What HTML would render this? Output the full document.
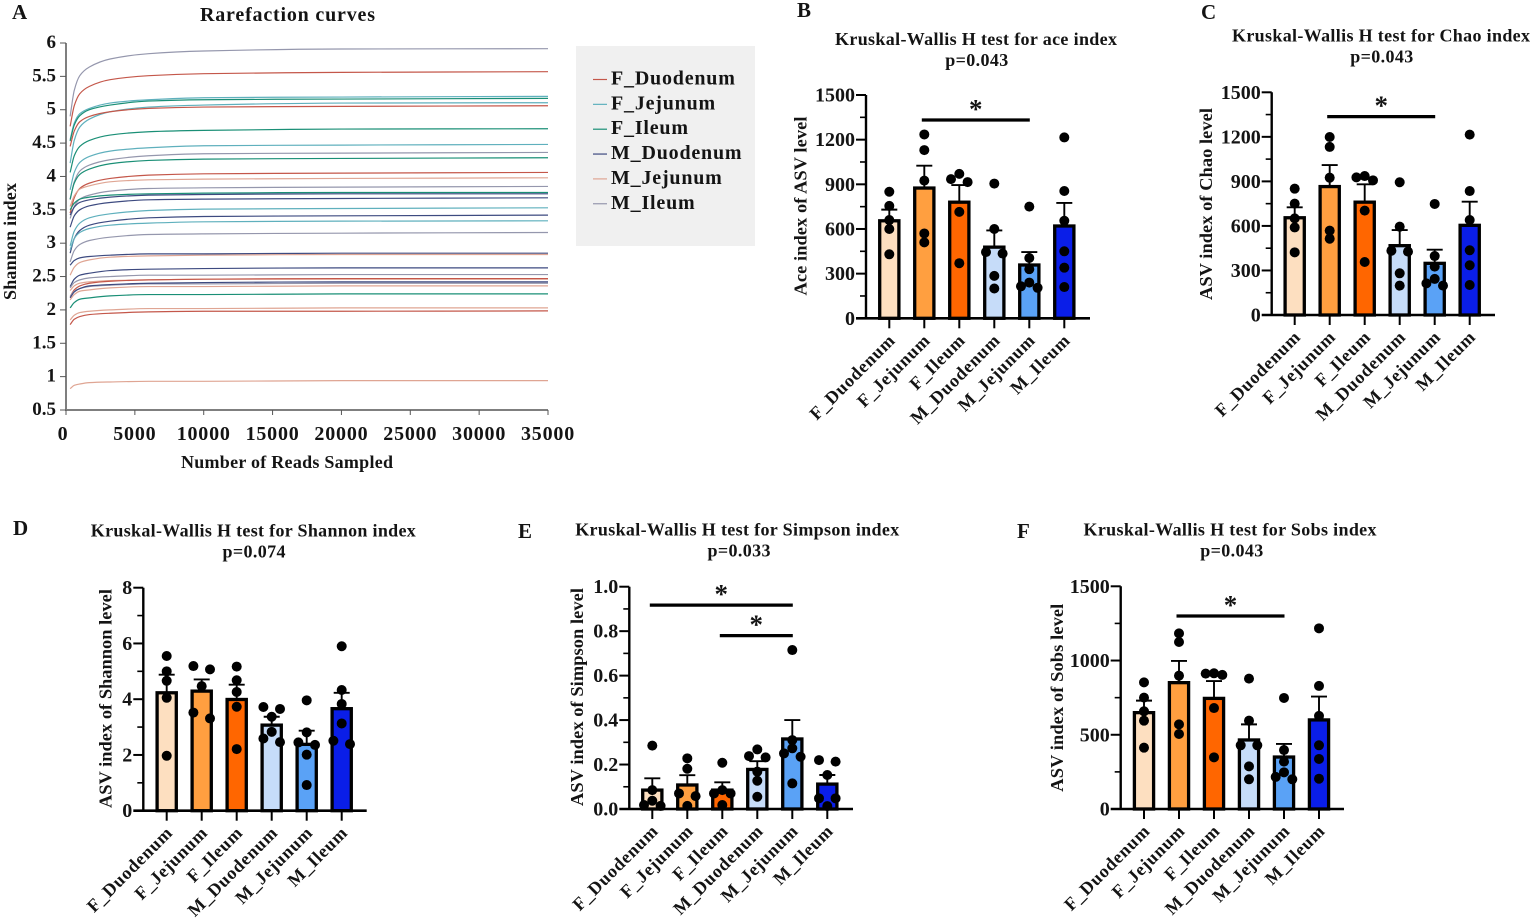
<!DOCTYPE html>
<html lang="en">
<head>
<meta charset="utf-8">
<title>Rarefaction curves and Kruskal-Wallis H tests</title>
<style>
html,body{margin:0;padding:0;background:#fff;width:1535px;height:921px;overflow:hidden}
svg{display:block}
text{font-family:"Liberation Serif",serif;font-weight:bold;fill:#141414}
</style>
</head>
<body>
<svg id="figure" xmlns="http://www.w3.org/2000/svg" width="1535" height="921" viewBox="0 0 1535 921"></svg>
<script>
// ---------- shared categories ----------
const categories = ['F_Duodenum','F_Jejunum','F_Ileum','M_Duodenum','M_Jejunum','M_Ileum'];

// ---------- panel A data ----------
const readsSampled = [300,600,1000,1700,3200,6000,10000,20000,35000];
const rarefactionXTicks = [0,5000,10000,15000,20000,25000,30000,35000];
const rarefactionYTicks = [0.5,1,1.5,2,2.5,3,3.5,4,4.5,5,5.5,6];
const curveGroups = ['M_Ileum','F_Duodenum','F_Jejunum','F_Ileum','F_Jejunum','F_Duodenum','F_Ileum','F_Jejunum','M_Ileum','F_Ileum','F_Duodenum','M_Jejunum','M_Ileum','F_Ileum','M_Duodenum','M_Duodenum','F_Jejunum','M_Duodenum','F_Jejunum','M_Ileum','M_Duodenum','M_Jejunum','M_Duodenum','M_Ileum','M_Jejunum','F_Duodenum','M_Ileum','M_Duodenum','M_Jejunum','F_Ileum','M_Jejunum','F_Duodenum','M_Jejunum'];
const curveShannon = [
[4.90,5.29,5.51,5.64,5.76,5.84,5.88,5.91,5.915],
[4.75,5.06,5.24,5.35,5.45,5.51,5.54,5.56,5.57],
[4.55,4.80,4.94,5.02,5.10,5.15,5.18,5.19,5.20],
[4.53,4.77,4.91,5.00,5.07,5.13,5.15,5.16,5.17],
[4.20,4.54,4.74,4.86,4.97,5.04,5.07,5.10,5.105],
[4.45,4.68,4.82,4.90,4.97,5.02,5.04,5.05,5.06],
[4.06,4.31,4.45,4.54,4.62,4.67,4.69,4.71,4.715],
[3.80,4.06,4.21,4.30,4.38,4.43,4.46,4.47,4.48],
[3.65,3.92,4.08,4.17,4.25,4.31,4.34,4.35,4.36],
[3.66,3.90,4.03,4.11,4.19,4.24,4.26,4.27,4.28],
[3.45,3.68,3.82,3.90,3.97,4.02,4.04,4.05,4.06],
[3.55,3.71,3.81,3.86,3.92,3.95,3.96,3.97,3.98],
[3.37,3.55,3.66,3.72,3.78,3.82,3.83,3.84,3.85],
[3.50,3.60,3.66,3.69,3.72,3.74,3.75,3.76,3.76],
[3.42,3.54,3.61,3.65,3.69,3.72,3.73,3.74,3.74],
[3.24,3.41,3.50,3.56,3.61,3.65,3.66,3.67,3.68],
[2.96,3.18,3.30,3.38,3.44,3.49,3.51,3.52,3.53],
[2.85,3.07,3.19,3.27,3.33,3.38,3.40,3.41,3.42],
[2.90,3.07,3.16,3.22,3.27,3.30,3.32,3.33,3.335],
[2.72,2.89,2.98,3.04,3.09,3.13,3.14,3.15,3.16],
[2.67,2.74,2.78,2.80,2.82,2.84,2.84,2.85,2.85],
[2.52,2.64,2.71,2.75,2.79,2.81,2.82,2.83,2.83],
[2.35,2.46,2.52,2.55,2.59,2.61,2.62,2.63,2.63],
[2.33,2.41,2.45,2.48,2.50,2.52,2.52,2.53,2.53],
[2.29,2.36,2.40,2.42,2.44,2.45,2.46,2.46,2.46],
[2.20,2.30,2.36,2.40,2.43,2.45,2.46,2.47,2.47],
[2.20,2.28,2.32,2.35,2.37,2.39,2.39,2.40,2.40],
[2.18,2.27,2.32,2.36,2.38,2.40,2.41,2.42,2.42],
[2.15,2.23,2.28,2.30,2.33,2.35,2.35,2.36,2.36],
[2.03,2.11,2.16,2.18,2.21,2.23,2.23,2.24,2.24],
[1.85,1.92,1.96,1.98,2.00,2.02,2.02,2.03,2.03],
[1.78,1.86,1.90,1.93,1.95,1.97,1.98,1.98,1.985],
[0.82,0.87,0.89,0.91,0.92,0.93,0.93,0.94,0.94]
];

// ---------- panel B data: ace ----------
const aceMeans = [655,875,780,478,358,620];
const aceErrors = [730,1025,895,590,445,775];
const aceDots = [[850,755,660,600,430],[1235,1130,925,570,510],[970,935,915,715,370],[905,600,445,435,285,200],[750,405,330,240,215,205],[1215,855,655,450,340,210]];
const aceTicks = [0,300,600,900,1200,1500];
const aceSignificance = [[1,4,1332]];

// ---------- panel C data: Chao ----------
const chaoMeans = [655,865,760,467,348,604];
const chaoErrors = [725,1010,880,572,440,763];
const chaoDots = [[851,750,651,590,422],[1199,1132,925,568,514],[936,927,907,703,357],[894,595,433,427,281,198],[748,397,326,243,213,198],[1215,835,640,436,335,202]];
const chaoTicks = [0,300,600,900,1200,1500];
const chaoSignificance = [[1,4,1336]];

// ---------- panel D data: Shannon ----------
const shannonMeans = [4.23,4.29,3.99,3.07,2.38,3.66];
const shannonErrors = [4.88,4.71,4.52,3.37,2.87,4.23];
const shannonDots = [[5.55,5.0,4.66,4.05,1.97],[5.19,5.07,4.47,3.52,3.31],[5.17,4.68,4.26,3.73,2.21],[3.72,3.65,3.37,2.83,2.59,2.46],[3.96,2.81,2.45,2.36,2.01,0.92],[5.9,4.33,3.83,3.13,2.51,2.39]];
const shannonTicks = [0,2,4,6,8];
const shannonSignificance = [];

// ---------- panel E data: Simpson ----------
const simpsonMeans = [0.085,0.108,0.085,0.178,0.315,0.112];
const simpsonErrors = [0.138,0.152,0.12,0.215,0.40,0.153];
const simpsonDots = [[0.285,0.085,0.037,0.018,0.014],[0.228,0.181,0.07,0.058,0.014],[0.208,0.085,0.07,0.07,0.018],[0.268,0.238,0.232,0.168,0.127,0.055],[0.715,0.31,0.273,0.25,0.235,0.115],[0.22,0.213,0.153,0.048,0.048,0.013]];
const simpsonTicks = [0,0.2,0.4,0.6,0.8,1.0];
const simpsonSignificance = [[0,4,0.917],[2,4,0.78]];

// ---------- panel F data: Sobs ----------
const sobsMeans = [649,851,745,465,350,600];
const sobsErrors = [730,997,862,570,438,757];
const sobsDots = [[853,750,658,595,413],[1183,1125,898,570,505],[914,912,903,680,348],[878,595,429,429,287,200],[748,397,319,247,216,200],[1217,829,627,429,337,204]];
const sobsTicks = [0,500,1000,1500];
const sobsSignificance = [[1,4,1300]];

// ---------- style tables ----------
const curveColors = {F_Duodenum:'#c4574a',F_Jejunum:'#5fb0bd',F_Ileum:'#1a8f76',M_Duodenum:'#3d4a80',M_Jejunum:'#dfa593',M_Ileum:'#9597ad'};
const barColors = ['#fddfc0','#ff9f40','#ff6600','#c6dcf9','#5aa2f6','#0a1ee8'];

const NS = 'http://www.w3.org/2000/svg';
const root = document.getElementById('figure');
function mk(tag, attrs, parent){
  const node = document.createElementNS(NS, tag);
  for (const k in attrs) node.setAttribute(k, attrs[k]);
  (parent || root).appendChild(node);
  return node;
}
function slug(s){ return s.toLowerCase().replace(/[^a-z0-9]+/g,'-').replace(/^-|-$/g,''); }

// ---------- panel letters ----------
const panelLetters = [['A',12,19],['B',797,17],['C',1201,19],['D',13,535],['E',518,538],['F',1017,538]];
panelLetters.forEach(function(p){
  const t = mk('text',{x:p[1],y:p[2],'font-size':21});
  t.textContent = p[0];
  
  
});

// ---------- panel A ----------
function monotonePath(px){
  const n = px.length, d = [], m = [];
  for (let i=0;i<n-1;i++) d.push((px[i+1][1]-px[i][1])/(px[i+1][0]-px[i][0]));
  m.push(d[0]);
  for (let i=1;i<n-1;i++){
    if (d[i-1]*d[i]<=0) m.push(0);
    else { const h0=px[i][0]-px[i-1][0], h1=px[i+1][0]-px[i][0];
      m.push((h0+h1)*3/((2*h1+h0)/d[i-1]+(h1+2*h0)/d[i])); }
  }
  m.push(d[n-2]);
  let s = 'M'+px[0][0].toFixed(2)+' '+px[0][1].toFixed(2);
  for (let i=0;i<n-1;i++){
    const h=(px[i+1][0]-px[i][0])/3;
    s += 'C'+(px[i][0]+h).toFixed(2)+' '+(px[i][1]+m[i]*h).toFixed(2)+' '+(px[i+1][0]-h).toFixed(2)+' '+(px[i+1][1]-m[i+1]*h).toFixed(2)+' '+px[i+1][0].toFixed(2)+' '+px[i+1][1].toFixed(2);
  }
  return s;
}
(function drawRarefaction(){
  const L=66, R=548, T=43, B=410;
  const xA = function(v){ return L+(v/35000)*(R-L); };
  const yA = function(v){ return B-((v-0.5)/5.5)*(B-T); };
  const g = mk('g',{});
  
  
  const title = mk('text',{x:287.5,y:21,'text-anchor':'middle','font-size':20,textLength:175,lengthAdjust:'spacing'},g);
  title.textContent = 'Rarefaction curves';
  
  

  curveShannon.forEach(function(vals,i){
    const pts = vals.map(function(v,j){ return [xA(readsSampled[j]), yA(v)]; });
    const p = mk('path',{d:monotonePath(pts),fill:'none',stroke:curveColors[curveGroups[i]],'stroke-width':1.2},g);
    
    
  });

  const yAxis = mk('line',{x1:L,x2:L,y1:T,y2:B+1,stroke:'#7f7f7f','stroke-width':2},g);
  
  
  const xAxis = mk('line',{x1:L-1,x2:R,y1:B,y2:B,stroke:'#7f7f7f','stroke-width':2},g);
  
  

  rarefactionYTicks.forEach(function(v){
    const tk = mk('line',{x1:L-6,x2:L,y1:yA(v),y2:yA(v),stroke:'#555','stroke-width':1},g);
    
    
    const lb = mk('text',{x:L-10,y:yA(v)+5,'text-anchor':'end','font-size':19},g);
    lb.textContent = String(v);
    
    
  });
  rarefactionXTicks.forEach(function(v){
    const tk = mk('line',{x1:xA(v),x2:xA(v),y1:B,y2:B+5,stroke:'#555','stroke-width':1},g);
    
    
    const lb = mk('text',{x:xA(v)-(v===0?3:0),y:440,'text-anchor':'middle','font-size':20,'letter-spacing':0.8},g);
    lb.textContent = String(v);
    
    
  });

  const yt = mk('text',{transform:'translate(16,241.5) rotate(-90)','text-anchor':'middle','font-size':18,textLength:117,lengthAdjust:'spacing'},g);
  yt.textContent = 'Shannon index';
  
  
  const xt = mk('text',{x:287,y:468,'text-anchor':'middle','font-size':18,textLength:212,lengthAdjust:'spacing'},g);
  xt.textContent = 'Number of Reads Sampled';
  
  

  const box = mk('rect',{x:576,y:46,width:179,height:200,fill:'#f0f0f0'},g);
  
  
  categories.forEach(function(c,i){
    const rowY = 79.5 + i*24.85;
    const ln = mk('line',{x1:593,x2:607,y1:rowY,y2:rowY,stroke:curveColors[c],'stroke-width':1.2},g);
    
    
    const lb = mk('text',{x:611,y:rowY+5,'font-size':20,'letter-spacing':0.8},g);
    lb.textContent = c;
    
    
  });
})();

// ---------- bar panels ----------
function jitterSlots(values, yScale){
  const order = values.map(function(v,i){ return i; }).sort(function(a,b){ return values[b]-values[a]; });
  const slots = new Array(values.length).fill(0);
  let cluster = [];
  const flush = function(){
    const pattern = cluster.length===1 ? [0] : cluster.length===2 ? [-1,1] : cluster.length===3 ? [0,-1,1] : [-1,0,1,0,-1,1];
    cluster.forEach(function(idx,k){ slots[idx]=pattern[k%pattern.length]; });
    cluster = [];
  };
  order.forEach(function(idx){
    if (cluster.length && Math.abs(yScale(values[idx])-yScale(values[cluster[cluster.length-1]]))>7.5) flush();
    cluster.push(idx);
  });
  flush();
  return slots;
}

function drawBarPanel(cfg){
  const g = mk('g',{});
  
  
  const maxV = cfg.ticks[cfg.ticks.length-1];
  const y = function(v){ return cfg.base-(v/maxV)*(cfg.base-cfg.top); };
  const x = function(i){ return cfg.firstX+i*35; };

  const t1 = mk('text',{x:cfg.titleX,y:cfg.titleY,'text-anchor':'middle','font-size':18,textLength:cfg.titleLen,lengthAdjust:'spacing'},g);
  t1.textContent = cfg.title;
  
  
  const t2 = mk('text',{x:cfg.pX,y:cfg.titleY+21,'text-anchor':'middle','font-size':18,textLength:63,lengthAdjust:'spacing'},g);
  t2.textContent = cfg.pValue;
  
  

  const yTitle = mk('text',{transform:'translate('+cfg.yTitleX+','+cfg.yTitleY+') rotate(-90)','text-anchor':'middle','font-size':18.4,textLength:cfg.yTitleLen,lengthAdjust:'spacing'},g);
  yTitle.textContent = cfg.yTitle;
  
  

  categories.forEach(function(c,i){
    const bar = mk('rect',{x:x(i)-9.6,y:y(cfg.means[i]),width:19.2,height:cfg.base-y(cfg.means[i]),fill:barColors[i],stroke:'#000','stroke-width':3.3},g);
    
    
    const eb = mk('path',{d:'M'+x(i)+' '+y(cfg.means[i])+'V'+y(cfg.errors[i])+'M'+(x(i)-8)+' '+y(cfg.errors[i])+'H'+(x(i)+8),fill:'none',stroke:'#000','stroke-width':1.9},g);
    
    
  });

  const yAxis = mk('line',{x1:cfg.axisX,x2:cfg.axisX,y1:cfg.top,y2:cfg.base+1,stroke:'#000','stroke-width':2.4},g);
  
  
  const xAxis = mk('line',{x1:cfg.axisX-10,x2:cfg.axisEnd,y1:cfg.base,y2:cfg.base,stroke:'#000','stroke-width':2.6},g);
  
  

  cfg.ticks.forEach(function(v,i){
    if (i>0){
      const tk = mk('line',{x1:cfg.axisX-10,x2:cfg.axisX,y1:y(v),y2:y(v),stroke:'#000','stroke-width':2},g);
      
      
      const mid = (v+cfg.ticks[i-1])/2;
      const minor = mk('line',{x1:cfg.axisX-6,x2:cfg.axisX,y1:y(mid),y2:y(mid),stroke:'#000','stroke-width':1.6},g);
      
      
    }
    const lb = mk('text',{x:cfg.axisX-11,y:y(v)+6.5,'text-anchor':'end','font-size':20},g);
    lb.textContent = cfg.tickFormat ? v.toFixed(1) : String(v);
    
    
  });

  categories.forEach(function(c,i){
    const tk = mk('line',{x1:x(i),x2:x(i),y1:cfg.base,y2:cfg.base+10,stroke:'#000','stroke-width':2},g);
    
    
    const lb = mk('text',{transform:'translate('+(x(i)+7)+','+(cfg.base+23)+') rotate(-45)','text-anchor':'end','font-size':18,'letter-spacing':0.75},g);
    lb.textContent = c;
    
    
  });

  cfg.dots.forEach(function(vals,i){
    const slots = jitterSlots(vals,y);
    vals.forEach(function(v,j){
      const dot = mk('circle',{cx:x(i)+slots[j]*8.3,cy:y(v),r:5,fill:'#000'},g);
      
      
    });
  });

  cfg.significance.forEach(function(s){
    const sigY = y(s[2]);
    const ln = mk('line',{x1:x(s[0])-2.5,x2:x(s[1])+0.5,y1:sigY,y2:sigY,stroke:'#000','stroke-width':3.3},g);
    
    
    const st = mk('text',{x:(x(s[0])+x(s[1]))/2-1,y:sigY-2,'text-anchor':'middle','font-size':27},g);
    st.textContent = '*';
    
    
  });
}

drawBarPanel({id:'ace',title:'Kruskal-Wallis H test for ace index',pValue:'p=0.043',titleX:976,titleY:45,titleLen:282,pX:976.7,yTitle:'Ace index of ASV level',yTitleX:806.5,yTitleY:206,yTitleLen:179,axisX:866,axisEnd:1090,top:95,base:318.3,firstX:889.3,means:aceMeans,errors:aceErrors,dots:aceDots,ticks:aceTicks,significance:aceSignificance});
drawBarPanel({id:'chao',title:'Kruskal-Wallis H test for Chao index',pValue:'p=0.043',titleX:1381,titleY:41.7,titleLen:298,pX:1381.7,yTitle:'ASV index of Chao level',yTitleX:1212,yTitleY:204,yTitleLen:192,axisX:1271.7,axisEnd:1495,top:92.3,base:315,firstX:1294.7,means:chaoMeans,errors:chaoErrors,dots:chaoDots,ticks:chaoTicks,significance:chaoSignificance});
drawBarPanel({id:'shannon',title:'Kruskal-Wallis H test for Shannon index',pValue:'p=0.074',titleX:253.3,titleY:536.7,titleLen:325,pX:254,yTitle:'ASV index of Shannon level',yTitleX:111.7,yTitleY:698.5,yTitleLen:219,axisX:143.3,axisEnd:366.7,top:587.7,base:810.7,firstX:166.7,means:shannonMeans,errors:shannonErrors,dots:shannonDots,ticks:shannonTicks,significance:shannonSignificance});
drawBarPanel({id:'simpson',title:'Kruskal-Wallis H test for Simpson index',pValue:'p=0.033',titleX:737.2,titleY:535.7,titleLen:324,pX:739,yTitle:'ASV index of Simpson level',yTitleX:583,yTitleY:697,yTitleLen:218,axisX:629.3,axisEnd:853,top:586.7,base:809,firstX:652.3,means:simpsonMeans,errors:simpsonErrors,dots:simpsonDots,ticks:simpsonTicks,tickFormat:true,significance:simpsonSignificance});
drawBarPanel({id:'sobs',title:'Kruskal-Wallis H test for Sobs index',pValue:'p=0.043',titleX:1230,titleY:535.7,titleLen:293,pX:1231.7,yTitle:'ASV index of Sobs level',yTitleX:1063,yTitleY:697.7,yTitleLen:188,axisX:1120.7,axisEnd:1344,top:586.3,base:809,firstX:1144,means:sobsMeans,errors:sobsErrors,dots:sobsDots,ticks:sobsTicks,significance:sobsSignificance});
</script>
</body>
</html>
